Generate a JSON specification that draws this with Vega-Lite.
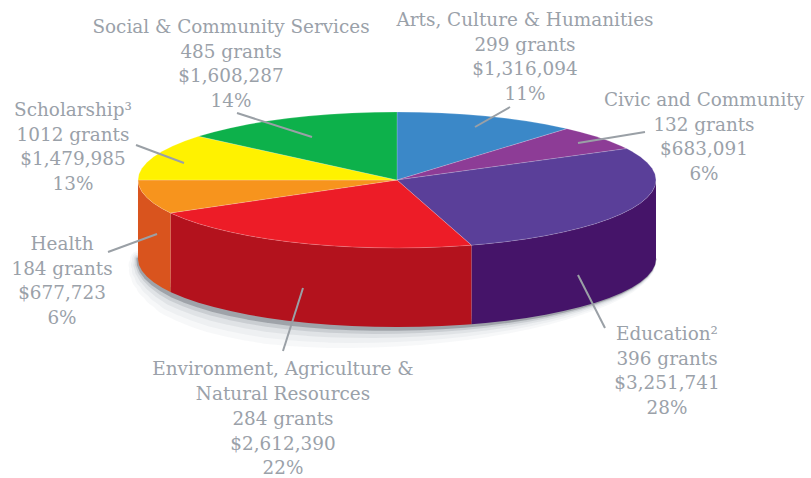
{"$schema":"https://vega.github.io/schema/vega-lite/v6.json","width":811,"height":478,"padding":0,"autosize":"none","background":"#ffffff","config":{"view":{"stroke":null}},
"datasets":{
"top":[
{"slice":"Arts","i":1,"x":0,"y":0},{"slice":"Arts","i":2,"x":0,"y":1},{"slice":"Arts","i":3,"x":0.0872,"y":0.9962},{"slice":"Arts","i":4,"x":0.1736,"y":0.9848},{"slice":"Arts","i":5,"x":0.2588,"y":0.9659},{"slice":"Arts","i":6,"x":0.342,"y":0.9397},{"slice":"Arts","i":7,"x":0.4226,"y":0.9063},{"slice":"Arts","i":8,"x":0.5,"y":0.866},{"slice":"Arts","i":9,"x":0.5736,"y":0.8192},{"slice":"Arts","i":10,"x":0.6428,"y":0.766},{"slice":"Arts","i":11,"x":0.6561,"y":0.7547},
{"slice":"Civic","i":1,"x":0,"y":0},{"slice":"Civic","i":2,"x":0.6561,"y":0.7547},{"slice":"Civic","i":3,"x":0.7071,"y":0.7071},{"slice":"Civic","i":4,"x":0.766,"y":0.6428},{"slice":"Civic","i":5,"x":0.8192,"y":0.5736},{"slice":"Civic","i":6,"x":0.866,"y":0.5},{"slice":"Civic","i":7,"x":0.887,"y":0.4617},
{"slice":"Education","i":1,"x":0,"y":0},{"slice":"Education","i":2,"x":0.887,"y":0.4617},{"slice":"Education","i":3,"x":0.9063,"y":0.4226},{"slice":"Education","i":4,"x":0.9397,"y":0.342},{"slice":"Education","i":5,"x":0.9659,"y":0.2588},{"slice":"Education","i":6,"x":0.9848,"y":0.1736},{"slice":"Education","i":7,"x":0.9962,"y":0.0872},{"slice":"Education","i":8,"x":1,"y":0},{"slice":"Education","i":9,"x":0.9962,"y":-0.0872},{"slice":"Education","i":10,"x":0.9848,"y":-0.1736},{"slice":"Education","i":11,"x":0.9659,"y":-0.2588},{"slice":"Education","i":12,"x":0.9397,"y":-0.342},{"slice":"Education","i":13,"x":0.9063,"y":-0.4226},{"slice":"Education","i":14,"x":0.866,"y":-0.5},{"slice":"Education","i":15,"x":0.8192,"y":-0.5736},{"slice":"Education","i":16,"x":0.766,"y":-0.6428},{"slice":"Education","i":17,"x":0.7071,"y":-0.7071},{"slice":"Education","i":18,"x":0.6428,"y":-0.766},{"slice":"Education","i":19,"x":0.5736,"y":-0.8192},{"slice":"Education","i":20,"x":0.5,"y":-0.866},{"slice":"Education","i":21,"x":0.4226,"y":-0.9063},{"slice":"Education","i":22,"x":0.342,"y":-0.9397},{"slice":"Education","i":23,"x":0.2874,"y":-0.9578},
{"slice":"Environment","i":1,"x":0,"y":0},{"slice":"Environment","i":2,"x":0.2874,"y":-0.9578},{"slice":"Environment","i":3,"x":0.2588,"y":-0.9659},{"slice":"Environment","i":4,"x":0.1736,"y":-0.9848},{"slice":"Environment","i":5,"x":0.0872,"y":-0.9962},{"slice":"Environment","i":6,"x":0,"y":-1},{"slice":"Environment","i":7,"x":-0.0872,"y":-0.9962},{"slice":"Environment","i":8,"x":-0.1736,"y":-0.9848},{"slice":"Environment","i":9,"x":-0.2588,"y":-0.9659},{"slice":"Environment","i":10,"x":-0.342,"y":-0.9397},{"slice":"Environment","i":11,"x":-0.4226,"y":-0.9063},{"slice":"Environment","i":12,"x":-0.5,"y":-0.866},{"slice":"Environment","i":13,"x":-0.5736,"y":-0.8192},{"slice":"Environment","i":14,"x":-0.6428,"y":-0.766},{"slice":"Environment","i":15,"x":-0.7071,"y":-0.7071},{"slice":"Environment","i":16,"x":-0.766,"y":-0.6428},{"slice":"Environment","i":17,"x":-0.8192,"y":-0.5736},{"slice":"Environment","i":18,"x":-0.866,"y":-0.5},{"slice":"Environment","i":19,"x":-0.8746,"y":-0.4848},
{"slice":"Health","i":1,"x":0,"y":0},{"slice":"Health","i":2,"x":-0.8746,"y":-0.4848},{"slice":"Health","i":3,"x":-0.9063,"y":-0.4226},{"slice":"Health","i":4,"x":-0.9397,"y":-0.342},{"slice":"Health","i":5,"x":-0.9659,"y":-0.2588},{"slice":"Health","i":6,"x":-0.9848,"y":-0.1736},{"slice":"Health","i":7,"x":-0.9962,"y":-0.0872},{"slice":"Health","i":8,"x":-1,"y":0},
{"slice":"Scholarship","i":1,"x":0,"y":0},{"slice":"Scholarship","i":2,"x":-1,"y":0},{"slice":"Scholarship","i":3,"x":-0.9962,"y":0.0872},{"slice":"Scholarship","i":4,"x":-0.9848,"y":0.1736},{"slice":"Scholarship","i":5,"x":-0.9659,"y":0.2588},{"slice":"Scholarship","i":6,"x":-0.9397,"y":0.342},{"slice":"Scholarship","i":7,"x":-0.9063,"y":0.4226},{"slice":"Scholarship","i":8,"x":-0.866,"y":0.5},{"slice":"Scholarship","i":9,"x":-0.8192,"y":0.5736},{"slice":"Scholarship","i":10,"x":-0.766,"y":0.6428},
{"slice":"Social","i":1,"x":0,"y":0},{"slice":"Social","i":2,"x":-0.766,"y":0.6428},{"slice":"Social","i":3,"x":-0.7071,"y":0.7071},{"slice":"Social","i":4,"x":-0.6428,"y":0.766},{"slice":"Social","i":5,"x":-0.5736,"y":0.8192},{"slice":"Social","i":6,"x":-0.5,"y":0.866},{"slice":"Social","i":7,"x":-0.4226,"y":0.9063},{"slice":"Social","i":8,"x":-0.342,"y":0.9397},{"slice":"Social","i":9,"x":-0.2588,"y":0.9659},{"slice":"Social","i":10,"x":-0.1736,"y":0.9848},{"slice":"Social","i":11,"x":-0.0872,"y":0.9962},{"slice":"Social","i":12,"x":0,"y":1}
],
"side":[
{"slice":"Education","x":1,"y":0,"y2":-1.1618},{"slice":"Education","x":0.9962,"y":-0.0872,"y2":-1.249},{"slice":"Education","x":0.9848,"y":-0.1736,"y2":-1.3354},{"slice":"Education","x":0.9659,"y":-0.2588,"y2":-1.4206},{"slice":"Education","x":0.9397,"y":-0.342,"y2":-1.5038},{"slice":"Education","x":0.9063,"y":-0.4226,"y2":-1.5844},{"slice":"Education","x":0.866,"y":-0.5,"y2":-1.6618},{"slice":"Education","x":0.8192,"y":-0.5736,"y2":-1.7354},{"slice":"Education","x":0.766,"y":-0.6428,"y2":-1.8046},{"slice":"Education","x":0.7071,"y":-0.7071,"y2":-1.8689},{"slice":"Education","x":0.6428,"y":-0.766,"y2":-1.9278},{"slice":"Education","x":0.5736,"y":-0.8192,"y2":-1.981},{"slice":"Education","x":0.5,"y":-0.866,"y2":-2.0278},{"slice":"Education","x":0.4226,"y":-0.9063,"y2":-2.0681},{"slice":"Education","x":0.342,"y":-0.9397,"y2":-2.1015},{"slice":"Education","x":0.2874,"y":-0.9578,"y2":-2.1196},
{"slice":"Environment","x":0.2874,"y":-0.9578,"y2":-2.1196},{"slice":"Environment","x":0.2588,"y":-0.9659,"y2":-2.1277},{"slice":"Environment","x":0.1736,"y":-0.9848,"y2":-2.1466},{"slice":"Environment","x":0.0872,"y":-0.9962,"y2":-2.158},{"slice":"Environment","x":0,"y":-1,"y2":-2.1618},{"slice":"Environment","x":-0.0872,"y":-0.9962,"y2":-2.158},{"slice":"Environment","x":-0.1736,"y":-0.9848,"y2":-2.1466},{"slice":"Environment","x":-0.2588,"y":-0.9659,"y2":-2.1277},{"slice":"Environment","x":-0.342,"y":-0.9397,"y2":-2.1015},{"slice":"Environment","x":-0.4226,"y":-0.9063,"y2":-2.0681},{"slice":"Environment","x":-0.5,"y":-0.866,"y2":-2.0278},{"slice":"Environment","x":-0.5736,"y":-0.8192,"y2":-1.981},{"slice":"Environment","x":-0.6428,"y":-0.766,"y2":-1.9278},{"slice":"Environment","x":-0.7071,"y":-0.7071,"y2":-1.8689},{"slice":"Environment","x":-0.766,"y":-0.6428,"y2":-1.8046},{"slice":"Environment","x":-0.8192,"y":-0.5736,"y2":-1.7354},{"slice":"Environment","x":-0.866,"y":-0.5,"y2":-1.6618},{"slice":"Environment","x":-0.8746,"y":-0.4848,"y2":-1.6466},
{"slice":"Health","x":-0.8746,"y":-0.4848,"y2":-1.6466},{"slice":"Health","x":-0.9063,"y":-0.4226,"y2":-1.5844},{"slice":"Health","x":-0.9397,"y":-0.342,"y2":-1.5038},{"slice":"Health","x":-0.9659,"y":-0.2588,"y2":-1.4206},{"slice":"Health","x":-0.9848,"y":-0.1736,"y2":-1.3354},{"slice":"Health","x":-0.9962,"y":-0.0872,"y2":-1.249},{"slice":"Health","x":-1,"y":0,"y2":-1.1618}
],
"rim":[
{"x":-1,"y":-1.1618,"spread":0.3},{"x":-0.9962,"y":-1.249,"spread":0.4},{"x":-0.9848,"y":-1.3354,"spread":0.5},{"x":-0.9659,"y":-1.4206,"spread":0.6},{"x":-0.9397,"y":-1.5038,"spread":0.7},{"x":-0.9063,"y":-1.5844,"spread":0.8},{"x":-0.866,"y":-1.6618,"spread":0.9},{"x":-0.8192,"y":-1.7354,"spread":0.93},{"x":-0.766,"y":-1.8046,"spread":0.97},{"x":-0.7071,"y":-1.8689,"spread":1},{"x":-0.6428,"y":-1.9278,"spread":1},{"x":-0.5736,"y":-1.981,"spread":1},{"x":-0.5,"y":-2.0278,"spread":1},{"x":-0.4226,"y":-2.0681,"spread":0.97},{"x":-0.342,"y":-2.1015,"spread":0.93},{"x":-0.2588,"y":-2.1277,"spread":0.9},{"x":-0.1736,"y":-2.1466,"spread":0.85},{"x":-0.0872,"y":-2.158,"spread":0.8},{"x":0,"y":-2.1618,"spread":0.75},{"x":0.0872,"y":-2.158,"spread":0.7},{"x":0.1736,"y":-2.1466,"spread":0.65},{"x":0.2588,"y":-2.1277,"spread":0.6},{"x":0.342,"y":-2.1015,"spread":0.55},{"x":0.4226,"y":-2.0681,"spread":0.5},{"x":0.5,"y":-2.0278,"spread":0.45},{"x":0.5736,"y":-1.981,"spread":0.4},{"x":0.6428,"y":-1.9278,"spread":0.35},{"x":0.7071,"y":-1.8689,"spread":0.3},{"x":0.766,"y":-1.8046,"spread":0.27},{"x":0.8192,"y":-1.7354,"spread":0.23},{"x":0.866,"y":-1.6618,"spread":0.2},{"x":0.9063,"y":-1.5844,"spread":0.17},{"x":0.9397,"y":-1.5038,"spread":0.13},{"x":0.9659,"y":-1.4206,"spread":0.1},{"x":0.9848,"y":-1.3354,"spread":0.07},{"x":0.9962,"y":-1.249,"spread":0.03},{"x":1,"y":-1.1618,"spread":0}
],
"labels":[
{"slice":"Social","label":"Social & Community Services\n485 grants\n$1,608,287\n14%","x":-0.6409,"y":2.1618},
{"slice":"Arts","label":"Arts, Culture & Humanities\n299 grants\n$1,316,094\n11%","x":0.4942,"y":2.2647},
{"slice":"Civic","label":"Civic and Community\n132 grants\n$683,091\n6%","x":1.1853,"y":1.0882},
{"slice":"Scholarship","label":"Scholarship³\n1012 grants\n$1,479,985\n13%","x":-1.251,"y":0.9412},
{"slice":"Health","label":"Health\n184 grants\n$677,723\n6%","x":-1.2934,"y":-1.0294},
{"slice":"Education","label":"Education²\n396 grants\n$3,251,741\n28%","x":1.0425,"y":-2.3529},
{"slice":"Environment","label":"Environment, Agriculture &\nNatural Resources\n284 grants\n$2,612,390\n22%","x":-0.4402,"y":-2.875}
],
"leaders":[
{"slice":"Social","x":-0.6178,"y":0.9853,"x2":-0.3282,"y2":0.6324},
{"slice":"Scholarship","x":-1.0077,"y":0.5147,"x2":-0.8224,"y2":0.25},
{"slice":"Arts","x":0.4363,"y":1.0735,"x2":0.3012,"y2":0.7794},
{"slice":"Civic","x":0.9575,"y":0.7059,"x2":0.6988,"y2":0.5441},
{"slice":"Education","x":0.8031,"y":-2.1765,"x2":0.6988,"y2":-1.3971},
{"slice":"Environment","x":-0.4402,"y":-2.5147,"x2":-0.3629,"y2":-1.5882},
{"slice":"Health","x":-1.1158,"y":-1.0588,"x2":-0.9266,"y2":-0.7941}
]},
"encoding":{
"x":{"field":"x","type":"quantitative","axis":null,"scale":{"domain":[-1.5328,1.5985],"nice":false,"zero":false}},
"y":{"field":"y","type":"quantitative","axis":null,"scale":{"domain":[-4.3824,2.6471],"nice":false,"zero":false}}
},
"layer":[
{"data":{"name":"rim"},"mark":{"type":"trail","color":"#6a7080","opacity":0.05},"encoding":{"size":{"field":"spread","type":"quantitative","legend":null,"scale":{"domain":[0,1],"range":[0,52]}}}},
{"data":{"name":"rim"},"mark":{"type":"trail","color":"#6a7080","opacity":0.06},"encoding":{"size":{"field":"spread","type":"quantitative","legend":null,"scale":{"domain":[0,1],"range":[0,40]}}}},
{"data":{"name":"rim"},"mark":{"type":"trail","color":"#5a6070","opacity":0.09},"encoding":{"size":{"field":"spread","type":"quantitative","legend":null,"scale":{"domain":[0,1],"range":[0,28]}}}},
{"data":{"name":"rim"},"mark":{"type":"trail","color":"#4a4f5c","opacity":0.14},"encoding":{"size":{"field":"spread","type":"quantitative","legend":null,"scale":{"domain":[0,1],"range":[0,18]}}}},
{"data":{"name":"rim"},"mark":{"type":"trail","color":"#33363f","opacity":0.28},"encoding":{"size":{"field":"spread","type":"quantitative","legend":null,"scale":{"domain":[0,1],"range":[0,10]}}}},
{"data":{"name":"side"},"mark":{"type":"area"},"encoding":{
"y":{"field":"y","type":"quantitative","stack":null},"y2":{"field":"y2"},
"color":{"field":"slice","type":"nominal","legend":null,"scale":{"domain":["Education","Environment","Health"],"range":["#451469","#B3121D","#D9541E"]}}}},
{"data":{"name":"top"},"mark":{"type":"line","filled":true,"interpolate":"linear-closed","stroke":"#ffffff","strokeOpacity":0.3,"strokeWidth":0.6},"encoding":{
"order":{"field":"i","type":"quantitative"},
"color":{"field":"slice","type":"nominal","legend":null,"scale":{"domain":["Arts","Civic","Education","Environment","Health","Scholarship","Social"],"range":["#3B88C8","#8D3C96","#5A3F99","#ED1C27","#F7941D","#FFF200","#0DB14B"]}}}},
{"data":{"name":"leaders"},"mark":{"type":"rule","stroke":"#9aa0a6","strokeWidth":2},"encoding":{"x2":{"field":"x2"},"y2":{"field":"y2"}}},
{"data":{"name":"labels"},"mark":{"type":"text","font":"DejaVu Serif","fontSize":18.4,"fill":"#9aa1a9","align":"center","baseline":"alphabetic","lineBreak":"\n","lineHeight":24.7},"encoding":{"text":{"field":"label","type":"nominal"}}}
],
"resolve":{"scale":{"color":"independent","size":"independent"}}
}
